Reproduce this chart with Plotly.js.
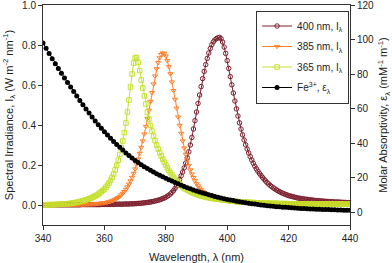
<!DOCTYPE html>
<html>
<head>
<meta charset="utf-8">
<script src="https://cdn.plot.ly/plotly-3.0.1.min.js"></script>
<style>
html,body{margin:0;padding:0;background:#fff;}
#chart{width:392px;height:263px;}
</style>
</head>
<body>
<div id="chart"></div>
<script>
// Wavelength grid (nm)
const startWavelength = 340;
const ledStep = 0.5;   // LED spectra sampled every 0.5 nm
const feStep = 1;      // Fe3+ absorptivity sampled every 1 nm

const seriesNames = ["400 nm, I<sub>λ</sub>", "385 nm, I<sub>λ</sub>", "365 nm, I<sub>λ</sub>", "Fe<sup>3+</sup>, ε<sub>λ</sub>"];

// Spectral irradiance of the 400 nm LED (W m^-2 nm^-1), 340–440 nm
const led400 = [
0.001,0.001,0.001,0.001,0.001,0.001,0.001,0.001,0.001,0.001,
0.001,0.001,0.001,0.001,0.001,0.001,0.001,0.001,0.001,0.001,
0.001,0.001,0.001,0.001,0.001,0.002,0.002,0.002,0.002,0.002,
0.002,0.002,0.002,0.002,0.002,0.002,0.002,0.002,0.003,0.003,
0.003,0.003,0.003,0.003,0.003,0.003,0.003,0.004,0.004,0.004,
0.004,0.004,0.004,0.005,0.005,0.005,0.005,0.006,0.006,0.006,
0.007,0.007,0.008,0.008,0.009,0.010,0.011,0.012,0.013,0.014,
0.015,0.017,0.018,0.020,0.022,0.024,0.026,0.029,0.032,0.035,
0.039,0.044,0.049,0.055,0.063,0.072,0.083,0.095,0.110,0.127,
0.146,0.165,0.186,0.210,0.236,0.266,0.300,0.338,0.380,0.422,
0.465,0.508,0.550,0.592,0.632,0.668,0.702,0.733,0.760,0.783,
0.802,0.816,0.826,0.832,0.836,0.838,0.832,0.815,0.790,0.758,
0.722,0.683,0.642,0.601,0.560,0.520,0.481,0.445,0.411,0.380,
0.351,0.325,0.301,0.280,0.260,0.242,0.225,0.209,0.194,0.181,
0.169,0.158,0.148,0.138,0.129,0.120,0.112,0.105,0.098,0.092,
0.086,0.081,0.076,0.071,0.067,0.063,0.059,0.056,0.053,0.050,
0.047,0.045,0.043,0.041,0.039,0.037,0.035,0.034,0.032,0.031,
0.030,0.029,0.028,0.027,0.026,0.025,0.024,0.023,0.022,0.022,
0.021,0.020,0.020,0.019,0.018,0.018,0.017,0.017,0.016,0.016,
0.015,0.015,0.015,0.014,0.014,0.013,0.013,0.013,0.012,0.012,
0.012];

// Spectral irradiance of the 385 nm LED
const led385 = [
0.001,0.001,0.001,0.001,0.001,0.001,0.001,0.001,0.001,0.001,
0.001,0.001,0.001,0.001,0.001,0.001,0.001,0.001,0.001,0.001,
0.001,0.001,0.001,0.001,0.002,0.002,0.002,0.002,0.003,0.003,
0.003,0.004,0.004,0.005,0.005,0.006,0.007,0.008,0.009,0.010,
0.011,0.012,0.014,0.016,0.018,0.021,0.024,0.028,0.032,0.037,
0.043,0.050,0.058,0.067,0.078,0.090,0.104,0.120,0.138,0.158,
0.180,0.204,0.230,0.258,0.288,0.320,0.355,0.392,0.432,0.474,
0.518,0.562,0.605,0.645,0.681,0.712,0.736,0.752,0.760,0.758,
0.745,0.722,0.692,0.656,0.615,0.572,0.528,0.484,0.440,0.398,
0.358,0.320,0.285,0.253,0.224,0.198,0.175,0.155,0.137,0.121,
0.107,0.095,0.085,0.076,0.068,0.061,0.055,0.050,0.046,0.042,
0.039,0.036,0.033,0.031,0.029,0.027,0.025,0.024,0.022,0.021,
0.020,0.019,0.018,0.017,0.016,0.015,0.015,0.014,0.013,0.013,
0.012,0.012,0.011,0.011,0.010,0.010,0.010,0.009,0.009,0.009,
0.008,0.008,0.008,0.007,0.007,0.007,0.007,0.007,0.006,0.006,
0.006,0.006,0.006,0.006,0.006,0.006,0.006,0.006,0.006,0.006,
0.006,0.005,0.005,0.005,0.005,0.005,0.005,0.005,0.005,0.005,
0.005,0.005,0.005,0.005,0.005,0.005,0.005,0.005,0.005,0.005,
0.005,0.005,0.004,0.004,0.004,0.004,0.004,0.004,0.004,0.004,
0.004,0.004,0.004,0.004,0.004,0.004,0.004,0.004,0.004,0.004,
0.004];

// Spectral irradiance of the 365 nm LED
const led365 = [
0.001,0.001,0.001,0.001,0.002,0.002,0.002,0.002,0.003,0.003,
0.003,0.004,0.004,0.005,0.005,0.006,0.007,0.007,0.008,0.009,
0.011,0.012,0.013,0.015,0.017,0.019,0.021,0.023,0.025,0.028,
0.031,0.034,0.037,0.041,0.045,0.049,0.054,0.060,0.066,0.073,
0.080,0.089,0.099,0.110,0.123,0.138,0.155,0.175,0.198,0.224,
0.253,0.285,0.320,0.362,0.410,0.465,0.525,0.590,0.655,0.710,
0.735,0.738,0.712,0.672,0.625,0.585,0.545,0.505,0.465,0.430,
0.398,0.370,0.345,0.322,0.300,0.280,0.262,0.245,0.229,0.214,
0.200,0.186,0.173,0.161,0.150,0.139,0.129,0.120,0.112,0.104,
0.097,0.091,0.085,0.080,0.075,0.071,0.067,0.063,0.060,0.057,
0.054,0.051,0.048,0.046,0.044,0.042,0.040,0.038,0.036,0.035,
0.033,0.032,0.031,0.030,0.029,0.028,0.027,0.026,0.025,0.024,
0.023,0.022,0.021,0.020,0.019,0.018,0.018,0.017,0.016,0.016,
0.015,0.015,0.014,0.014,0.013,0.013,0.012,0.012,0.012,0.011,
0.011,0.011,0.010,0.010,0.010,0.009,0.009,0.009,0.009,0.008,
0.008,0.008,0.008,0.008,0.007,0.007,0.007,0.007,0.007,0.007,
0.006,0.006,0.006,0.006,0.006,0.006,0.006,0.006,0.006,0.006,
0.006,0.006,0.006,0.006,0.005,0.005,0.005,0.005,0.005,0.005,
0.005,0.005,0.005,0.005,0.005,0.005,0.005,0.005,0.005,0.005,
0.005,0.005,0.005,0.005,0.005,0.004,0.004,0.004,0.004,0.004,
0.004];

// Molar absorptivity of Fe3+ (mM^-1 m^-1), 340–440 nm every 1 nm
const fe3 = [
98.0,95.0,92.0,89.0,86.1,83.3,80.5,77.8,75.2,72.6,
70.0,67.4,64.8,62.3,59.9,57.5,55.2,53.0,50.8,48.7,
46.7,44.8,42.9,41.1,39.4,37.7,36.1,34.5,33.0,31.5,
30.1,28.9,27.7,26.5,25.5,24.5,23.5,22.5,21.6,20.7,
19.8,19.0,18.2,17.4,16.6,15.8,15.1,14.4,13.7,13.1,
12.5,11.9,11.3,10.8,10.3,9.8,9.3,8.9,8.4,8.0,
7.6,7.3,6.9,6.6,6.3,6.0,5.7,5.4,5.1,4.9,
4.6,4.4,4.2,4.0,3.8,3.6,3.4,3.3,3.1,3.0,
2.9,2.8,2.6,2.5,2.4,2.3,2.2,2.1,2.0,1.95,
1.9,1.8,1.75,1.7,1.6,1.55,1.5,1.45,1.4,1.35,
1.3];

const xTicks = [340, 360, 380, 400, 420, 440];
const yTicks = [0.0, 0.2, 0.4, 0.6, 0.8, 1.0];
const y2Ticks = [0, 20, 40, 60, 80, 100, 120];

const FONT = "Liberation Sans, Arial, sans-serif";
const TEXT = "#222";

function led(y, name, color, symbol, group) {
  return {
    type: "scatter", mode: "lines+markers", name: name, legendgroup: group,
    x0: startWavelength, dx: ledStep, y: y,
    line: {color: color, width: 1},
    marker: {symbol: symbol, size: 4.5, color: color, line: {color: color, width: 1}},
    yaxis: "y"
  };
}

const traces = [
  led(led400, seriesNames[0], "#7d1f2d", "circle-open", "a"),
  led(led385, seriesNames[1], "#ff7f2a", "triangle-down-open", "b"),
  led(led365, seriesNames[2], "#c4e02c", "square-open", "c"),
  {
    type: "scatter", mode: "lines+markers", name: seriesNames[3], legendgroup: "d",
    x0: startWavelength, dx: feStep, y: fe3,
    line: {color: "#000", width: 1},
    marker: {symbol: "circle", size: 5, color: "#000"},
    yaxis: "y2"
  }
];

const axisCommon = {
  showline: true, linecolor: "#333", linewidth: 1,
  ticks: "outside", ticklen: 4, tickcolor: "#333", tickwidth: 1,
  showgrid: false, zeroline: false, ticklabeloverflow: "allow",
  tickfont: {family: FONT, size: 10, color: TEXT}
};
const titleFont = {family: FONT, size: 11, color: TEXT};

const layout = {
  width: 392, height: 263,
  margin: {l: 43, r: 42, t: 5, b: 38},
  paper_bgcolor: "#fff", plot_bgcolor: "#fff",
  font: {family: FONT, size: 11, color: TEXT},
  showlegend: true,
  legend: {
    x: 0.997, xanchor: "right", y: 0.975, yanchor: "top",
    borderwidth: 1, bordercolor: "#333", bgcolor: "#fff",
    font: {family: FONT, size: 10, color: TEXT},
    tracegroupgap: 1.5, itemwidth: 30
  },
  xaxis: Object.assign({}, axisCommon, {
    range: [340, 440], tickvals: xTicks, mirror: true,
    title: {text: "Wavelength, λ (nm)", font: titleFont, standoff: 16}
  }),
  yaxis: Object.assign({}, axisCommon, {
    range: [-0.1, 1.0001], tickvals: yTicks, tickformat: ".1f",
    title: {text: "Spectral Irradiance, I<sub>λ</sub> (W m<sup>-2</sup> nm<sup>-1</sup>)", font: titleFont, standoff: 6}
  }),
  yaxis2: Object.assign({}, axisCommon, {
    range: [-7.2, 120.01], tickvals: y2Ticks, overlaying: "y", side: "right",
    title: {text: "Molar Absorptivity, ε<sub>λ</sub> (mM<sup>-1</sup> m<sup>-1</sup>)", font: titleFont, standoff: 6}
  })
};

Plotly.newPlot("chart", traces, layout, {displayModeBar: false, staticPlot: true});
</script>
</body>
</html>
